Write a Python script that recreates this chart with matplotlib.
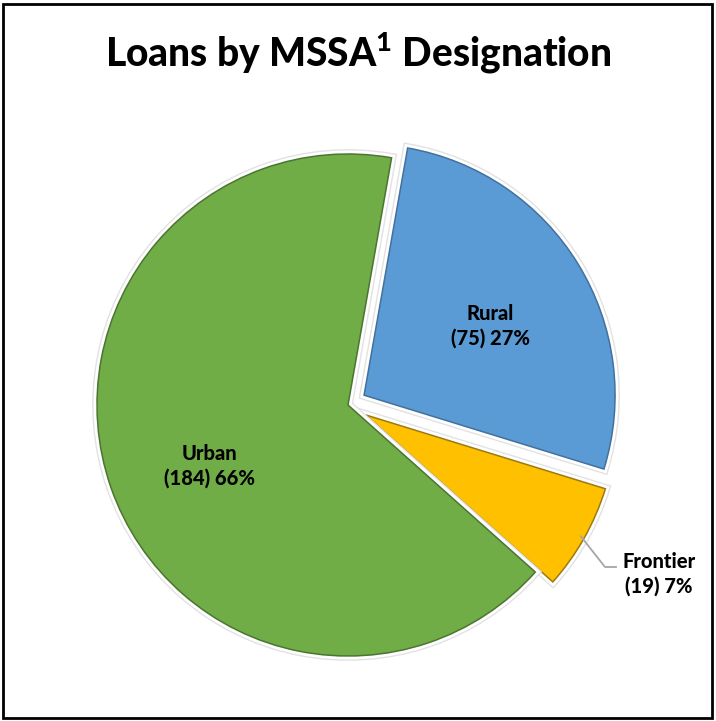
import numpy as np
import matplotlib.pyplot as plt
import matplotlib.patheffects as pe

# loans by MSSA designation
labels = ['Rural', 'Frontier', 'Urban']
counts = [75, 19, 184]
percents = [27, 7, 66]
colors = ['#5B9BD5', '#FFC000', '#70AD47']
edges = ['#41719C', '#9C7A10', '#4B7530']
explode = [0.075, 0.08, 0.0]

plt.rcParams['font.family'] = ['Lato', 'DejaVu Sans']
plt.rcParams['mathtext.fontset'] = 'custom'
plt.rcParams['mathtext.bf'] = 'Lato:black'
plt.rcParams['mathtext.rm'] = 'Lato:black'

W, H = 716, 721
cx, cy, R = 348, 405, 251  # pie centre and radius in pixels

fig = plt.figure(figsize=(W / 100, H / 100), dpi=100)
ax = fig.add_axes([0, 0, 1, 1])

wedges, _ = ax.pie(counts, colors=colors, explode=explode, startangle=80,
                   counterclock=False, radius=1.0)
for w, ec in zip(wedges, edges):
    w.set_edgecolor(ec)
    w.set_linewidth(1.1)
    w.set_path_effects([pe.Stroke(linewidth=7, foreground='#e2e2e2'),
                        pe.Stroke(linewidth=5, foreground='white'),
                        pe.Normal()])

ax.set_xlim(-cx / R, (W - cx) / R)
ax.set_ylim(-(H - cy) / R, cy / R)
ax.set_aspect('auto')
ax.axis('off')


def px(x, y):
    return (x - cx) / R, (cy - y) / R


txt = dict(fontsize=14.5, fontweight='black', ha='center', va='center',
           linespacing=1.35)
ax.text(*px(490, 326), f'{labels[0]}\n({counts[0]}) {percents[0]}%', **txt)
ax.text(*px(209, 466), f'{labels[2]}\n({counts[2]}) {percents[2]}%', **txt)
ax.text(*px(659, 574), f'{labels[1]}\n({counts[1]}) {percents[1]}%', **txt)

# leader line for the small slice
fw = wedges[1]
mid = np.deg2rad((fw.theta1 + fw.theta2) / 2)
p0 = (fw.center[0] + 0.985 * np.cos(mid), fw.center[1] + 0.985 * np.sin(mid))
p1 = px(605, 567)
p2 = px(616, 567)
ax.plot([p0[0], p1[0], p2[0]], [p0[1], p1[1], p2[1]], color='#a6a6a6', lw=1.3)

fig.text(0.5, 1 - 52 / H, r'Loans by MSSA$^{\mathbf{1}}$ Designation',
         fontsize=28, fontweight='black', ha='center', va='center')

# outer frame
fig.patches.append(plt.Rectangle((3 / W, 3 / H), 1 - 7 / W, 1 - 7 / H,
                                 transform=fig.transFigure, fill=False,
                                 edgecolor='black', lw=2))

fig.savefig('out.png', dpi=100)
